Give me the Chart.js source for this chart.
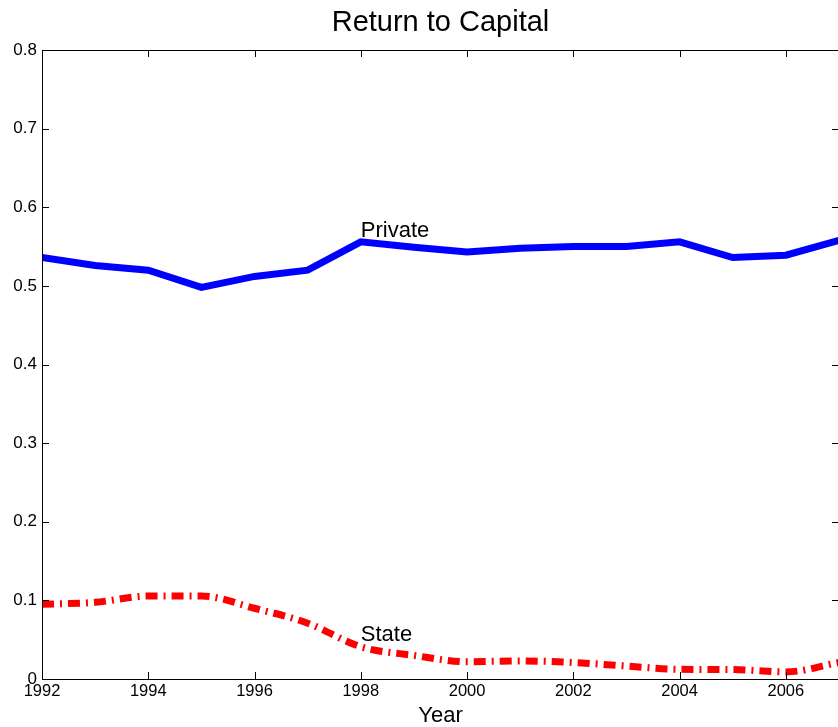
<!DOCTYPE html>
<html>
<head>
<meta charset="utf-8">
<script src="https://cdn.jsdelivr.net/npm/chart.js@4/dist/chart.umd.min.js"></script>
<style>
  html, body { margin: 0; padding: 0; background: #fff; overflow: hidden; }
  #wrap { width: 842px; height: 727px; }
</style>
</head>
<body>
<div id="wrap"><canvas id="grafico" width="842" height="727"></canvas></div>
<script>
// dados
var anos = [1992, 1993, 1994, 1995, 1996, 1997, 1998, 1999, 2000, 2001, 2002, 2003, 2004, 2005, 2006, 2007];
var privado = [0.536, 0.526, 0.520, 0.498, 0.512, 0.520, 0.556, 0.549, 0.543, 0.548, 0.550, 0.550, 0.556, 0.536, 0.539, 0.558];
var estatal = [0.095, 0.0975, 0.1055, 0.1055, 0.090, 0.071, 0.041, 0.030, 0.022, 0.023, 0.021, 0.0165, 0.0123, 0.012, 0.009, 0.021];
var xTicks = [1992, 1994, 1996, 1998, 2000, 2002, 2004, 2006];
var yTicks = [0, 0.1, 0.2, 0.3, 0.4, 0.5, 0.6, 0.7, 0.8];

// rótulos no meio do gráfico (posição em coordenadas de dados)
var rotulos = [
  { texto: 'Private', x: 1998, y: 0.562 },
  { texto: 'State', x: 1998, y: 0.048 }
];

var fonte = '"Liberation Sans", Arial, Helvetica, sans-serif';

function pontos(vals) {
  return anos.map(function (a, i) { return { x: a, y: vals[i] }; });
}

// desenha a caixa, os ticks para dentro e os rótulos
var moldura = {
  id: 'moldura',
  afterDraw: function (chart) {
    var c = chart.ctx, a = chart.chartArea;
    var sx = chart.scales.x, sy = chart.scales.y;
    var L = 7;
    c.save();
    c.strokeStyle = '#000';
    c.lineWidth = 1;
    c.strokeRect(Math.round(a.left) + 0.5, Math.round(a.top) + 0.5, Math.round(a.right - a.left), Math.round(a.bottom - a.top));
    c.beginPath();
    sx.ticks.forEach(function (t) {
      var px = Math.round(sx.getPixelForValue(t.value)) + 0.5;
      c.moveTo(px, a.bottom); c.lineTo(px, a.bottom - L);
      c.moveTo(px, a.top); c.lineTo(px, a.top + L);
    });
    sy.ticks.forEach(function (t) {
      var py = Math.round(sy.getPixelForValue(t.value)) + 0.5;
      c.moveTo(a.left, py); c.lineTo(a.left + L, py);
      c.moveTo(a.right, py); c.lineTo(a.right - L, py);
    });
    c.stroke();
    c.fillStyle = '#000';
    c.font = '22px ' + fonte;
    c.textBaseline = 'alphabetic';
    c.textAlign = 'left';
    rotulos.forEach(function (r) {
      c.fillText(r.texto, sx.getPixelForValue(r.x), sy.getPixelForValue(r.y));
    });
    c.restore();
  }
};

var ctx = document.getElementById('grafico').getContext('2d');
var grafico = new Chart(ctx, {
  type: 'line',
  data: {
    datasets: [{
      label: 'Private',
      data: pontos(privado),
      borderColor: '#0000ff',
      borderWidth: 7,
      pointRadius: 0,
      tension: 0,
      borderJoinStyle: 'miter'
    }, {
      label: 'State',
      data: pontos(estatal),
      borderColor: '#ff0000',
      borderWidth: 7,
      borderDash: [12, 6, 2, 6],
      borderCapStyle: 'butt',
      pointRadius: 0,
      cubicInterpolationMode: 'monotone'
    }]
  },
  options: {
    responsive: false,
    animation: false,
    layout: { padding: { top: 0, left: 0, right: 3, bottom: 0 } },
    plugins: {
      legend: { display: false },
      tooltip: { enabled: false },
      title: {
        display: true,
        text: 'Return to Capital',
        fullSize: false,
        color: '#000',
        font: { family: fonte, size: 29, weight: 'normal', lineHeight: 1.2 },
        padding: { top: 6, bottom: 9.2 }
      }
    },
    scales: {
      x: {
        type: 'linear',
        min: 1992,
        max: 2007,
        border: { display: false },
        grid: { display: false, drawTicks: false },
        afterBuildTicks: function (s) {
          s.ticks = xTicks.map(function (v) { return { value: v }; });
        },
        afterFit: function (s) { s.height = 48; },
        ticks: {
          maxRotation: 0,
          autoSkip: false,
          padding: 3,
          color: '#000',
          font: { family: fonte, size: 16.5 },
          callback: function (v) { return String(v); }
        },
        title: {
          display: true,
          text: 'Year',
          color: '#000',
          font: { family: fonte, size: 22, lineHeight: 1 },
          padding: { top: 0, bottom: 0 }
        }
      },
      y: {
        min: 0,
        max: 0.8,
        border: { display: false },
        grid: { display: false, drawTicks: false },
        afterBuildTicks: function (s) {
          s.ticks = yTicks.map(function (v) { return { value: v }; });
        },
        afterFit: function (s) { s.width = 42; },
        ticks: {
          padding: 5,
          color: '#000',
          font: { family: fonte, size: 17 },
          callback: function (v) { return String(Number(v.toFixed(1))); }
        }
      }
    }
  },
  plugins: [moldura]
});
</script>
</body>
</html>
